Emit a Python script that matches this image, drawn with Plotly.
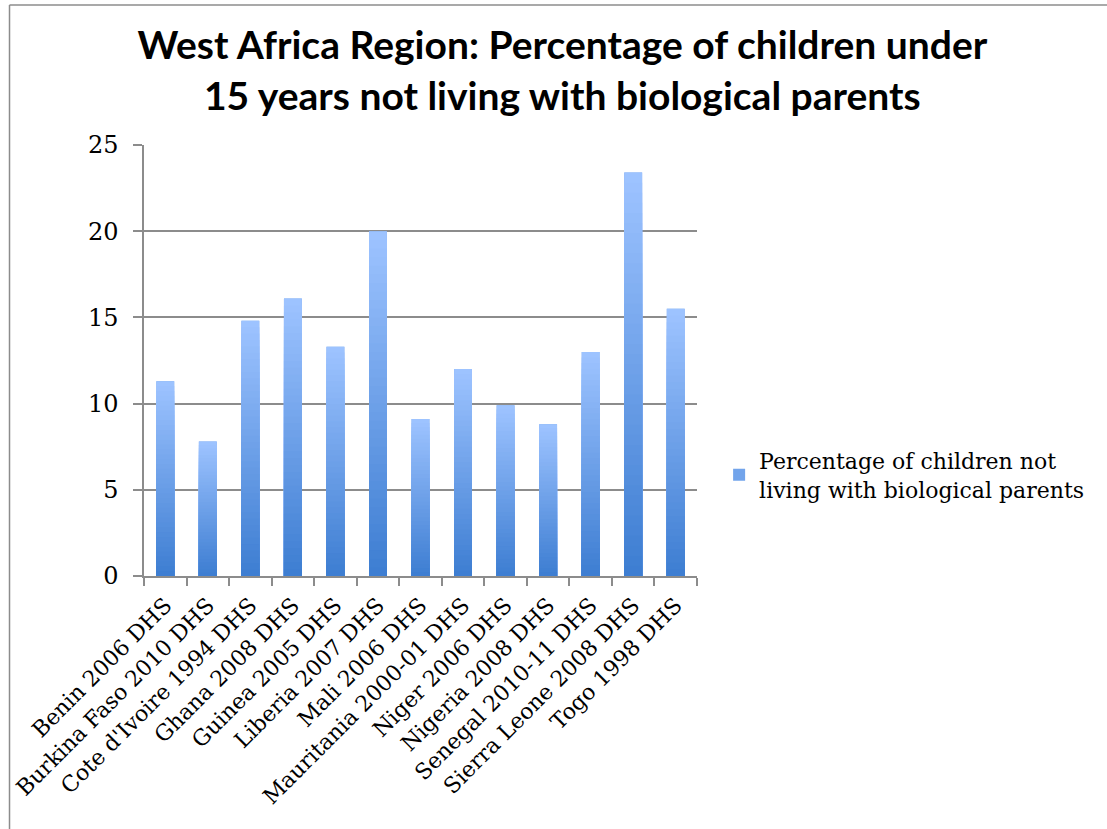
import plotly.graph_objects as go

# Survey labels and share of children under 15 not living with biological parents (%)
surveys = [
    "Benin 2006 DHS", "Burkina Faso 2010 DHS", "Cote d'Ivoire 1994 DHS",
    "Ghana 2008 DHS", "Guinea 2005 DHS", "Liberia 2007 DHS", "Mali 2006 DHS",
    "Mauritania 2000-01 DHS", "Niger 2006 DHS", "Nigeria 2008 DHS",
    "Senegal 2010-11 DHS", "Sierra Leone 2008 DHS", "Togo 1998 DHS",
]
pct_not_with_parents = [11.3, 7.8, 14.8, 16.1, 13.3, 20.0, 9.1, 12.0, 9.9, 8.8, 13.0, 23.4, 15.5]
series_name = "Percentage of children not<br>living with biological parents"
y_ticks = [0, 5, 10, 15, 20, 25]

TOP_RGB = (157, 195, 255)
BOTTOM_RGB = (62, 126, 210)
N_SHADES = 40
GRID = "#8c8c8c"
SERIF = "DejaVu Serif, Cambria, serif"


def shade(t):
    """Blend from the light top colour (t=0) to the dark base colour (t=1)."""
    r, g, b = (round(a + (c - a) * t) for a, c in zip(TOP_RGB, BOTTOM_RGB))
    return f"rgb({r},{g},{b})"


fig = go.Figure()

# Full-height bars carry the values; progressively shorter, darker overlays
# build a vertical gradient inside every bar.
fig.add_trace(go.Bar(
    x=surveys, y=pct_not_with_parents, name=series_name,
    marker=dict(color=shade(0.45), line=dict(width=0)),
    showlegend=True,
))
for k in range(N_SHADES):
    frac = 1 - k / N_SHADES
    fig.add_trace(go.Bar(
        x=surveys, y=[v * frac for v in pct_not_with_parents],
        marker=dict(color=shade(k / (N_SHADES - 1)), line=dict(width=0)),
        showlegend=False, hoverinfo="skip",
    ))

# Chart frame (top and left edges)
fig.add_shape(type="line", xref="paper", yref="paper", x0=-0.2432, x1=1.9,
              y0=1.3248, y1=1.3248, line=dict(color=GRID, width=1.5))
fig.add_shape(type="line", xref="paper", yref="paper", x0=-0.2432, x1=-0.2432,
              y0=1.3248, y1=-0.8, line=dict(color=GRID, width=1.5))

fig.update_layout(
    width=1107, height=829,
    margin=dict(l=142, r=410, t=145, b=253),
    paper_bgcolor="white", plot_bgcolor="white",
    barmode="overlay", bargap=0.58,
    title=dict(
        text="West Africa Region: Percentage of children under<br>15 years not living with biological parents",
        x=0.508, xanchor="center", y=0.929, yanchor="middle",
        font=dict(family="Lato, Open Sans, sans-serif", size=39, color="black", weight="bold"),
    ),
    legend=dict(
        x=1.04, xanchor="left", y=0.234, yanchor="middle",
        font=dict(family=SERIF, size=22, color="black"),
        bgcolor="rgba(0,0,0,0)", itemsizing="constant", itemwidth=30,
    ),
    xaxis=dict(
        type="category", tickangle=-45, tickson="boundaries",
        ticks="outside", ticklen=8, tickcolor=GRID, tickwidth=1.5,
        showline=True, linecolor=GRID, linewidth=1.5, showgrid=False,
        ticklabelstandoff=6,
        tickfont=dict(family=SERIF, size=22, color="black"),
    ),
    yaxis=dict(
        range=[0, 25], tickvals=y_ticks, ticks="outside", ticklen=9,
        tickcolor=GRID, tickwidth=1.5, showline=True, linecolor=GRID, linewidth=1.5,
        showgrid=True, gridcolor=GRID, gridwidth=1.5, zeroline=False,
        ticklabelstandoff=10,
        tickfont=dict(family=SERIF, size=24, color="black"),
    ),
)

fig.write_html("out.html")
